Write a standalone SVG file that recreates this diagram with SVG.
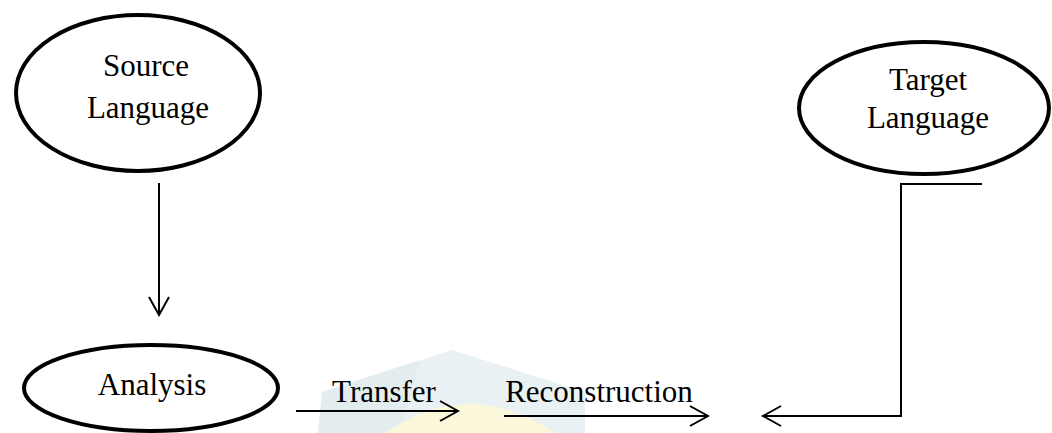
<svg xmlns="http://www.w3.org/2000/svg" width="1052" height="433" viewBox="0 0 1052 433">
<style>
.node{fill:#fff;stroke:#000;stroke-width:4}
.lbl{font-family:"Liberation Serif","Times New Roman",serif;font-size:31px;fill:#000;text-anchor:middle}
.edge{fill:none;stroke:#000;stroke-width:2}
</style>
<defs>
<marker id="chev" markerUnits="userSpaceOnUse" markerWidth="22" markerHeight="24" viewBox="0 0 22 24" refX="20" refY="12" orient="auto">
<path d="M2,2 L20,12 L2,22" fill="none" stroke="#000" stroke-width="2"/>
</marker>
</defs>
<rect width="1052" height="433" fill="#fff"/>
<g id="watermark" opacity="0.9">
<polygon points="318,433 322,392 452,350 585,392 585,433" fill="#e8f0f3"/>
<polygon points="318,433 322,392 420,360 400,433" fill="#e1ecef"/>
<path d="M385,433 Q470,375 555,433 Z" fill="#fbf7d6"/>
</g>
<g id="connectors">
<line class="edge" x1="159" y1="183" x2="159" y2="315" marker-end="url(#chev)"/>
<line class="edge" x1="296" y1="411" x2="458" y2="411" marker-end="url(#chev)"/>
<line class="edge" x1="504" y1="416" x2="708" y2="416" marker-end="url(#chev)"/>
<polyline class="edge" points="982,184 901,184 901,416 763,416" marker-end="url(#chev)"/>
</g>
<g id="source">
<ellipse class="node" cx="138" cy="93" rx="122" ry="78"/>
<text class="lbl" x="146" y="76">Source</text>
<text class="lbl" x="148" y="118">Language</text>
</g>
<g id="target">
<ellipse class="node" cx="924" cy="108" rx="125" ry="66"/>
<text class="lbl" x="928" y="90">Target</text>
<text class="lbl" x="928" y="128">Language</text>
</g>
<g id="analysis">
<ellipse class="node" cx="151" cy="388" rx="127" ry="43"/>
<text class="lbl" x="152" y="395">Analysis</text>
</g>
<g id="labels">
<text class="lbl" x="384" y="402">Transfer</text>
<text class="lbl" x="599" y="402">Reconstruction</text>
</g>
</svg>
